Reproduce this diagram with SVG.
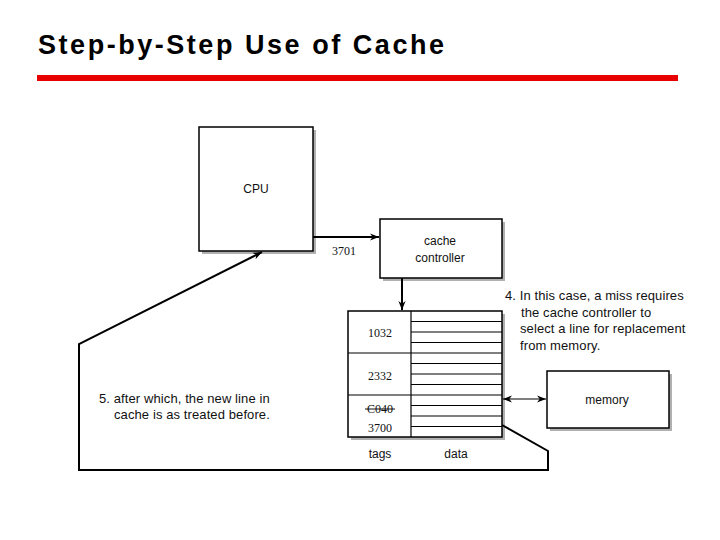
<svg xmlns="http://www.w3.org/2000/svg" width="720" height="540" viewBox="0 0 720 540">
<style>
.box{fill:#fff;stroke:#000;stroke-width:1.5}
.shadow{fill:#b0b0b0}
.lbl{font-family:"Liberation Sans",Arial,sans-serif;font-size:12px;fill:#111}
.note{font-family:"Liberation Sans",Arial,sans-serif;font-size:13px;letter-spacing:0.1px;fill:#111}
.num{font-family:"Liberation Serif","Times New Roman",serif;font-size:12px;fill:#111}
.conn{fill:none;stroke:#000;stroke-width:2}
.thin{stroke:#000;stroke-width:1.2}
</style>
<defs>
<marker id="arr" viewBox="0 0 10 10" refX="10" refY="5" markerWidth="9" markerHeight="9" markerUnits="userSpaceOnUse" orient="auto-start-reverse">
<path d="M0,1 L10,5 L0,9 L3,5 Z" fill="#000"/>
</marker>
</defs>
<rect width="720" height="540" fill="#fff"/>
<g id="title">
<text x="38" y="54" font-family="Liberation Sans,Arial,sans-serif" font-size="27" font-weight="bold" fill="#000" textLength="406" lengthAdjust="spacing">Step-by-Step Use of Cache</text>
<rect x="37" y="75" width="641" height="6" fill="#e80000"/>
</g>
<g id="cpu">
<rect class="shadow" x="202" y="130" width="114" height="124"/>
<rect class="box" x="199" y="127" width="114" height="124"/>
<text class="lbl" x="256" y="193" text-anchor="middle">CPU</text>
</g>
<g id="controller">
<rect class="shadow" x="383" y="222" width="122" height="59"/>
<rect class="box" x="380" y="219" width="122" height="59"/>
<text class="lbl" x="440" y="245" text-anchor="middle">cache</text>
<text class="lbl" x="440" y="262" text-anchor="middle">controller</text>
</g>
<g id="cache">
<rect class="shadow" x="351" y="314" width="154" height="126"/>
<rect class="box" x="348" y="311" width="154" height="126"/>
<line class="thin" x1="411" y1="311" x2="411" y2="437"/>
<line class="thin" x1="348" y1="353" x2="411" y2="353"/>
<line class="thin" x1="348" y1="395" x2="411" y2="395"/>
<g class="thin">
<line x1="411" y1="321.5" x2="502" y2="321.5"/>
<line x1="411" y1="332" x2="502" y2="332"/>
<line x1="411" y1="342.5" x2="502" y2="342.5"/>
<line x1="411" y1="353" x2="502" y2="353"/>
<line x1="411" y1="363.5" x2="502" y2="363.5"/>
<line x1="411" y1="374" x2="502" y2="374"/>
<line x1="411" y1="384.5" x2="502" y2="384.5"/>
<line x1="411" y1="395" x2="502" y2="395"/>
<line x1="411" y1="405.5" x2="502" y2="405.5"/>
<line x1="411" y1="416" x2="502" y2="416"/>
<line x1="411" y1="426.5" x2="502" y2="426.5"/>
</g>
<text class="num" x="380" y="337" text-anchor="middle">1032</text>
<text class="num" x="380" y="380" text-anchor="middle">2332</text>
<text class="num" x="380" y="413" text-anchor="middle">C040</text>
<line x1="365" y1="409" x2="395" y2="409" stroke="#111" stroke-width="1"/>
<text class="num" x="380" y="432" text-anchor="middle">3700</text>
<text class="lbl" x="380" y="458" text-anchor="middle">tags</text>
<text class="lbl" x="456" y="458" text-anchor="middle">data</text>
</g>
<g id="memory">
<rect class="shadow" x="550" y="374" width="122" height="57"/>
<rect class="box" x="547" y="371" width="122" height="57"/>
<text class="lbl" x="607" y="404" text-anchor="middle">memory</text>
</g>
<g id="notes">
<text class="note" x="505" y="300">4. In this case, a miss requires</text>
<text class="note" x="521" y="317">the cache controller to</text>
<text class="note" x="520" y="333">select a line for replacement</text>
<text class="note" x="520" y="350">from memory.</text>
<text class="note" x="99" y="403">5. after which, the new line in</text>
<text class="note" x="114" y="419">cache is as treated before.</text>
</g>
<g id="connectors">
<line class="conn" x1="313" y1="237" x2="379" y2="237" marker-end="url(#arr)"/>
<text class="num" x="344" y="255" text-anchor="middle">3701</text>
<line class="conn" x1="402" y1="278" x2="402" y2="310" marker-end="url(#arr)"/>
<line x1="503" y1="399" x2="546" y2="399" stroke="#000" stroke-width="1.2" marker-start="url(#arr)" marker-end="url(#arr)"/>
<polyline class="conn" points="502,425 548,451 548,470 79,470 79,344 262,252" marker-end="url(#arr)"/>
</g>
</svg>
